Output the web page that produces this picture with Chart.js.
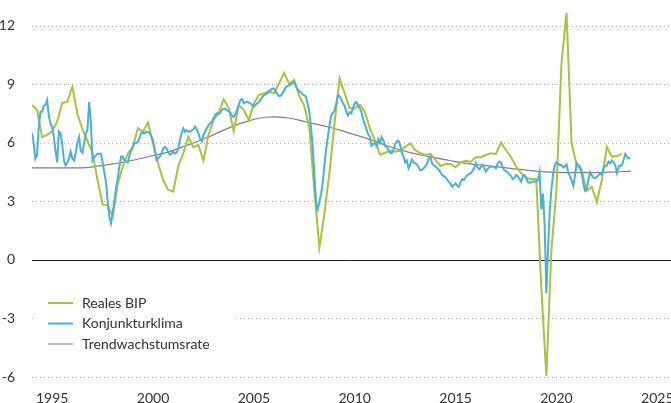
<!DOCTYPE html>
<html>
<head>
<meta charset="utf-8">
<script src="https://cdn.jsdelivr.net/npm/chart.js@4/dist/chart.umd.min.js"></script>
<style>
  html, body { margin: 0; padding: 0; background: #fff; }
  #wrap { width: 671px; height: 403px; }
</style>
</head>
<body>
<div id="wrap"><canvas id="chart"></canvas></div>
<script>
// Achsen
const xTicks = [1995, 2000, 2005, 2010, 2015, 2020, 2025];
const yTicks = [-6, -3, 0, 3, 6, 9, 12];

// Reales BIP, Quartalswerte ab 1994
const bipStart = 1994;
const bipValues = [
  7.95, 7.7, 6.3, 6.42, 6.6, 7.1, 8.05, 8.1, 8.88, 7.5,
  6.7, 6.1, 5.5, 4.1, 2.85, 2.8, 2.25, 3.9, 4.8, 5.45,
  5.8, 6.75, 6.58, 7.04, 5.98, 4.96, 4.1, 3.6, 3.5, 4.8,
  5.47, 6.32, 5.78, 5.9, 5.1, 6.4, 7.18, 7.52, 8.24, 7.8,
  6.6, 7.95, 7.7, 7.18, 8.03, 8.46, 8.55, 8.63, 8.55, 9.06,
  9.6, 9.03, 9.23, 8.4, 7.9, 6.8, 3.5, 0.65, 2.4, 4.5,
  7.0, 9.3, 8.55, 7.78, 7.78, 7.95, 7.6, 6.75, 6.15, 5.4,
  5.5, 5.6, 5.55, 5.6, 5.8, 5.98, 5.64, 5.47, 5.38, 5.44,
  5.13, 4.82, 4.92, 4.92, 4.75, 5.0, 5.09, 5.04, 5.27, 5.27,
  5.38, 5.47, 5.44, 6.02, 5.64, 5.27, 4.8, 4.45, 4.2, 4.15,
  4.15, -1.37, -5.95, 0.5, 3.6, 10.1, 12.68, 6.0, 4.9, 4.6,
  3.55, 3.76, 2.96, 4.1, 5.8, 5.3, 5.33, 5.44
];

// Konjunkturklima, Monatswerte ab Januar 1994
const klimaStart = 1994;
const klimaValues = [
  6.5, 6.0, 5.2, 5.4, 6.8, 7.6, 7.6, 7.9, 7.95, 8.2, 7.4, 7.0,          // 1994
  6.8, 6.3, 5.6, 5.0, 6.6, 6.5, 5.9, 5.1, 4.85, 5.0, 5.2, 5.55,         // 1995
  5.2, 5.1, 5.5, 6.0, 6.3, 5.6, 5.5, 6.0, 6.45, 6.7, 8.1, 7.1,          // 1996
  5.1, 5.25, 5.35, 5.45, 5.45, 5.45, 5.0, 4.5, 4.0, 3.0, 2.22, 1.88,    // 1997
  2.4, 3.0, 3.7, 4.2, 4.8, 5.3, 5.3, 5.1, 5.04, 5.0, 5.35, 5.6,         // 1998
  5.81, 6.0, 6.0, 6.05, 6.29, 6.5, 6.52, 6.5, 6.58, 6.55, 6.5, 6.35,   // 1999
  6.1, 5.7, 5.13, 5.2, 5.3, 5.45, 5.7, 5.8, 5.73, 5.55, 5.4, 5.45,      // 2000
  5.55, 5.47, 5.5, 5.7, 6.15, 6.5, 6.75, 6.58, 6.65, 6.6, 6.58, 6.64,  // 2001
  6.7, 6.84, 6.7, 6.5, 6.2, 6.07, 6.4, 6.6, 6.75, 6.9, 7.0, 7.09,      // 2002
  7.25, 7.45, 7.52, 7.47, 7.55, 7.69, 7.75, 7.75, 7.68, 7.62, 7.55, 7.4, // 2003
  7.33, 7.5, 7.7, 7.95, 8.2, 8.25, 8.03, 8.08, 8.12, 8.07, 8.03, 7.95,  // 2004
  7.86, 7.95, 8.03, 8.1, 8.2, 8.35, 8.46, 8.5, 8.55, 8.68, 8.72, 8.78,  // 2005
  8.8, 8.65, 8.5, 8.4, 8.42, 8.55, 8.7, 8.85, 8.92, 8.95, 9.0, 9.1,     // 2006
  9.1, 8.9, 8.75, 8.65, 8.6, 8.5, 8.43, 8.37, 8.0, 7.6, 6.8, 5.8,       // 2007
  4.4, 2.9, 2.6, 3.0, 3.4, 4.0, 4.9, 5.7, 6.3, 6.92, 7.4, 7.55,         // 2008
  7.65, 8.03, 8.46, 8.4, 8.22, 8.05, 7.9, 7.6, 7.4, 7.58, 7.52, 7.8,    // 2009
  8.05, 8.1, 7.9, 7.78, 7.6, 7.2, 6.95, 6.7, 6.45, 6.3, 5.85, 5.95,     // 2010
  6.0, 5.85, 6.2, 6.0, 6.3, 6.15, 5.85, 5.81, 5.65, 5.5, 5.47, 5.65,   // 2011
  5.95, 6.07, 6.12, 5.9, 5.5, 5.3, 5.0, 5.1, 4.7, 4.9, 5.15, 5.0,       // 2012
  4.95, 4.9, 4.75, 4.6, 4.62, 4.7, 4.8, 4.95, 5.2, 5.3, 4.96, 4.85,     // 2013
  4.8, 4.72, 4.62, 4.5, 4.36, 4.3, 4.24, 4.1, 4.0, 3.9, 3.75, 3.85,     // 2014
  3.93, 3.8, 3.75, 4.0, 4.15, 4.1, 4.25, 4.35, 4.4, 4.45, 4.55, 4.7,    // 2015
  4.96, 4.75, 4.65, 4.75, 4.88, 4.75, 4.53, 4.65, 4.75, 4.79, 4.79, 4.76, // 2016
  4.7, 4.95, 5.05, 5.0, 4.75, 4.6, 4.55, 4.5, 4.4, 4.3, 4.15, 4.2,      // 2017
  4.36, 4.3, 4.15, 4.02, 4.3, 4.35, 4.19, 4.0, 3.95, 4.0, 4.02, 4.02,   // 2018
  4.05, 4.1, 4.5, 2.6, 3.4, 1.8, -1.7, 0.5, 2.5, 3.6, 4.4, 4.85,        // 2019
  5.0, 4.95, 4.87, 4.87, 4.75, 4.8, 4.9, 4.5, 4.3, 4.1, 3.8, 4.3,       // 2020
  4.96, 4.87, 4.78, 4.5, 3.9, 3.55, 3.65, 4.1, 4.5, 4.35, 4.22, 4.2,    // 2021
  4.25, 4.35, 4.44, 4.36, 4.75, 4.79, 4.85, 5.04, 4.96, 5.1, 5.0, 4.85, // 2022
  4.45, 4.79, 4.83, 4.87, 5.15, 5.44, 5.3, 5.2, 5.21                    // 2023
];

// Trendwachstumsrate, Jahreswerte
const trendStart = 1993.7;
const trendValues = [
  4.72, 4.72, 4.72, 4.74, 4.88, 5.05, 5.28, 5.52, 5.88, 6.28,
  6.75, 7.12, 7.33, 7.28, 7.05, 6.82, 6.52, 6.2, 5.82, 5.52,
  5.3, 5.1, 4.93, 4.82, 4.7, 4.58, 4.5, 4.48, 4.48, 4.5, 4.56
];

const toPoints = (start, step, vals) => vals.map((v, i) => ({ x: start + i * step, y: v }));

const FONT = 'Lato, "Open Sans", sans-serif';
const TEXT = '#333333';

// Gitterlinien (gepunktet, Nulllinie durchgezogen) und Legende
const decor = {
  id: 'decor',
  beforeDatasetsDraw(chart) {
    const { ctx, chartArea: a, scales: { y } } = chart;
    ctx.save();
    yTicks.forEach(t => {
      const py = Math.round(y.getPixelForValue(t)) + 0.5;
      ctx.beginPath();
      if (t === 0) {
        ctx.setLineDash([]);
        ctx.strokeStyle = '#222';
        ctx.lineWidth = 1;
      } else {
        ctx.setLineDash([1, 3]);
        ctx.strokeStyle = '#b5b5b5';
        ctx.lineWidth = 1;
      }
      ctx.moveTo(a.left, py);
      ctx.lineTo(a.right, py);
      ctx.stroke();
    });
    // Legendenfläche
    ctx.fillStyle = '#fff';
    ctx.fillRect(a.left + 1, 288, 200, 68);
    ctx.restore();
  },
  afterDatasetsDraw(chart) {
    const { ctx } = chart;
    ctx.save();
    ctx.font = '14px ' + FONT;
    ctx.textBaseline = 'middle';
    chart.data.datasets.forEach((ds, i) => {
      const ly = 303 + i * 20.5;
      ctx.beginPath();
      ctx.setLineDash([]);
      ctx.strokeStyle = ds.legendColor || ds.borderColor;
      ctx.lineWidth = 2;
      ctx.moveTo(48, ly);
      ctx.lineTo(73, ly);
      ctx.stroke();
      ctx.fillStyle = TEXT;
      ctx.fillText(ds.label, 82, ly);
    });
    ctx.restore();
  }
};

new Chart(document.getElementById('chart'), {
  type: 'line',
  data: {
    datasets: [
      {
        label: 'Reales BIP',
        data: toPoints(bipStart, 0.25, bipValues),
        borderColor: '#a9c23f',
        borderWidth: 2,
        pointRadius: 0,
        tension: 0,
        order: 2
      },
      {
        label: 'Konjunkturklima',
        data: toPoints(klimaStart, 1 / 12, klimaValues),
        borderColor: '#4bb1d4',
        borderWidth: 2,
        pointRadius: 0,
        tension: 0,
        order: 1
      },
      {
        label: 'Trendwachstumsrate',
        data: toPoints(trendStart, 1, trendValues),
        borderColor: '#808080',
        legendColor: '#bdbdbd',
        borderWidth: 1.2,
        pointRadius: 0,
        tension: 0.4,
        order: 3
      }
    ]
  },
  options: {
    responsive: true,
    maintainAspectRatio: false,
    animation: false,
    layout: { padding: 0 },
    plugins: { legend: { display: false }, tooltip: { enabled: false } },
    scales: {
      x: {
        type: 'linear',
        min: 1994,
        max: 2025.68,
        grid: { display: false },
        border: { display: false },
        afterBuildTicks: s => { s.ticks = xTicks.map(v => ({ value: v })); },
        afterFit: s => { s.height = 26; s.paddingLeft = 0; s.paddingRight = 0; },
        ticks: {
          padding: 5,
          maxRotation: 0,
          autoSkip: false,
          color: TEXT,
          font: { family: FONT, size: 14 },
          callback: v => String(v)
        }
      },
      y: {
        min: -6,
        max: 13.33,
        grid: { display: false },
        border: { display: false },
        afterBuildTicks: s => { s.ticks = yTicks.map(v => ({ value: v })); },
        afterFit: s => { s.width = 32; s.paddingTop = 0; s.paddingBottom = 0; },
        ticks: {
          padding: 9,
          color: TEXT,
          font: { family: FONT, size: 14 },
          callback: v => String(v)
        }
      }
    }
  },
  plugins: [decor]
});
</script>
</body>
</html>
